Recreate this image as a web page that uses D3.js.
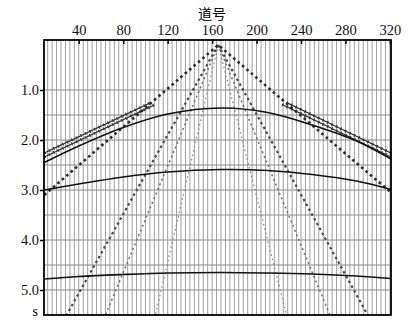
<!DOCTYPE html>
<html>
<head>
<meta charset="utf-8">
<script src="https://cdn.jsdelivr.net/npm/d3@7"></script>
<style>
  body { margin: 0; background: #fff; }
  svg text { font-family: "Liberation Serif", "DejaVu Serif", serif; }
</style>
</head>
<body>
<div id="chart"></div>
<script>
/* global d3 */

// top axis: trace number (道号), left axis: time in s
var traceTicks = [40, 80, 120, 160, 200, 240, 280, 320];
var timeTicks = [1.0, 2.0, 3.0, 4.0, 5.0];
var gridTimes = [1.0, 1.5, 2.0, 2.5, 3.0, 3.5, 4.0, 4.5, 5.0];
var firstTrace = 12, lastTrace = 320, traceStep = 4;

// reflections, [trace, time]
var reflection1 = [[9, 2.45], [40, 2.12], [80, 1.75], [120, 1.48], [168, 1.36], [210, 1.45], [250, 1.7], [290, 2.02], [321, 2.38]];
var reflection2 = [[9, 3.0], [40, 2.88], [80, 2.74], [120, 2.64], [168, 2.59], [210, 2.61], [250, 2.69], [290, 2.82], [321, 2.99]];
var reflection3 = [[9, 4.78], [40, 4.73], [80, 4.69], [120, 4.66], [168, 4.65], [210, 4.66], [250, 4.68], [290, 4.72], [321, 4.77]];

// head waves (double, zigzag)
var headLeftA = [[9, 2.26], [104, 1.26]];
var headLeftB = [[9, 2.34], [108, 1.3]];
var headRightA = [[227, 1.25], [321, 2.26]];
var headRightB = [[223, 1.29], [321, 2.34]];

// direct wave and steep linear events
var directWave = [[9, 3.1], [165.5, 0.1], [321, 3.05]];
var steepLeft1 = [[165.5, 0.1], [29, 5.5]];
var steepLeft2 = [[165.5, 0.1], [64, 5.5]];
var steepLeft3 = [[165.5, 0.1], [109, 5.5]];
var steepRight1 = [[165.5, 0.1], [300, 5.5]];
var steepRight2 = [[165.5, 0.1], [266, 5.5]];
var steepRight3 = [[165.5, 0.1], [227, 5.5]];

var width = 419, height = 331,
  margin = { top: 40, right: 28, bottom: 16, left: 44 },
  innerWidth = width - margin.left - margin.right,
  innerHeight = height - margin.top - margin.bottom;

var xScale = d3.scaleLinear().domain([8.7, 321]).range([0, innerWidth]);
var yScale = d3.scaleLinear().domain([0, 5.5]).range([0, innerHeight]);

var svg = d3.select("#chart").append("svg")
  .attr("width", width)
  .attr("height", height);

var g = svg.append("g")
  .attr("transform", "translate(" + margin.left + "," + margin.top + ")");

// trace baselines
g.append("g").selectAll("line")
  .data(d3.range(firstTrace, lastTrace + 1, traceStep))
  .enter().append("line")
  .attr("x1", function (d) { return xScale(d); })
  .attr("x2", function (d) { return xScale(d); })
  .attr("y1", 0)
  .attr("y2", innerHeight)
  .attr("stroke", "#a0a0a0")
  .attr("stroke-width", 1);

// time grid
g.append("g").selectAll("line")
  .data(gridTimes)
  .enter().append("line")
  .attr("x1", 0)
  .attr("x2", innerWidth)
  .attr("y1", function (d) { return yScale(d); })
  .attr("y2", function (d) { return yScale(d); })
  .attr("stroke", "#8a8a8a")
  .attr("stroke-width", 1);

var line = d3.line()
  .x(function (d) { return xScale(d[0]); })
  .y(function (d) { return yScale(d[1]); });

var smooth = d3.line()
  .x(function (d) { return xScale(d[0]); })
  .y(function (d) { return yScale(d[1]); })
  .curve(d3.curveCatmullRom);

function drawEvent(data, gen, color, w, dash) {
  return g.append("path")
    .datum(data)
    .attr("d", gen)
    .attr("fill", "none")
    .attr("stroke", color)
    .attr("stroke-width", w)
    .attr("stroke-dasharray", dash || null);
}

drawEvent(steepLeft3, line, "#888", 1.3, "1.5,3");
drawEvent(steepRight3, line, "#888", 1.3, "1.5,3");
drawEvent(steepLeft2, line, "#6e6e6e", 1.5, "2,3");
drawEvent(steepRight2, line, "#6e6e6e", 1.5, "2,3");
drawEvent(steepLeft1, line, "#4a4a4a", 2.2, "2.5,3");
drawEvent(steepRight1, line, "#4a4a4a", 2.2, "2.5,3");
drawEvent(directWave, line, "#2a2a2a", 2.6, "2.6,3.2");

// double head wave with wiggle teeth
[headLeftA, headLeftB, headRightA, headRightB].forEach(function (h) {
  drawEvent(h, line, "#222", 1.2);
  drawEvent(h, line, "#333", 3, "1.2,3.8");
});

drawEvent(reflection1, smooth, "#111", 1.5);
drawEvent(reflection2, smooth, "#111", 1.5);
drawEvent(reflection3, smooth, "#111", 1.6);

// frame
g.append("rect")
  .attr("width", innerWidth)
  .attr("height", innerHeight)
  .attr("fill", "none")
  .attr("stroke", "#000")
  .attr("stroke-width", 1.8);

g.append("g")
  .attr("class", "x axis")
  .call(d3.axisTop(xScale).tickValues(traceTicks).tickSize(-4).tickPadding(5));

g.append("g")
  .attr("class", "y axis")
  .call(d3.axisLeft(yScale).tickValues(timeTicks).tickSize(4).tickPadding(1)
    .tickFormat(d3.format(".1f")));

svg.selectAll(".axis .domain").remove();
svg.selectAll(".axis line").attr("stroke", "#000").attr("stroke-width", 1.5);
svg.selectAll(".axis text")
  .attr("fill", "#111")
  .style("font-size", "14.5px")
  .style("font-family", "'Liberation Serif', serif");

g.append("text")
  .attr("x", -6)
  .attr("y", innerHeight + 1)
  .attr("text-anchor", "end")
  .style("font-size", "14px")
  .text("s");

svg.append("text")
  .attr("x", 212)
  .attr("y", 19)
  .attr("text-anchor", "middle")
  .style("font-size", "14px")
  .style("font-family", "'Noto Sans CJK SC', sans-serif")
  .text("道号");
</script>
</body>
</html>
